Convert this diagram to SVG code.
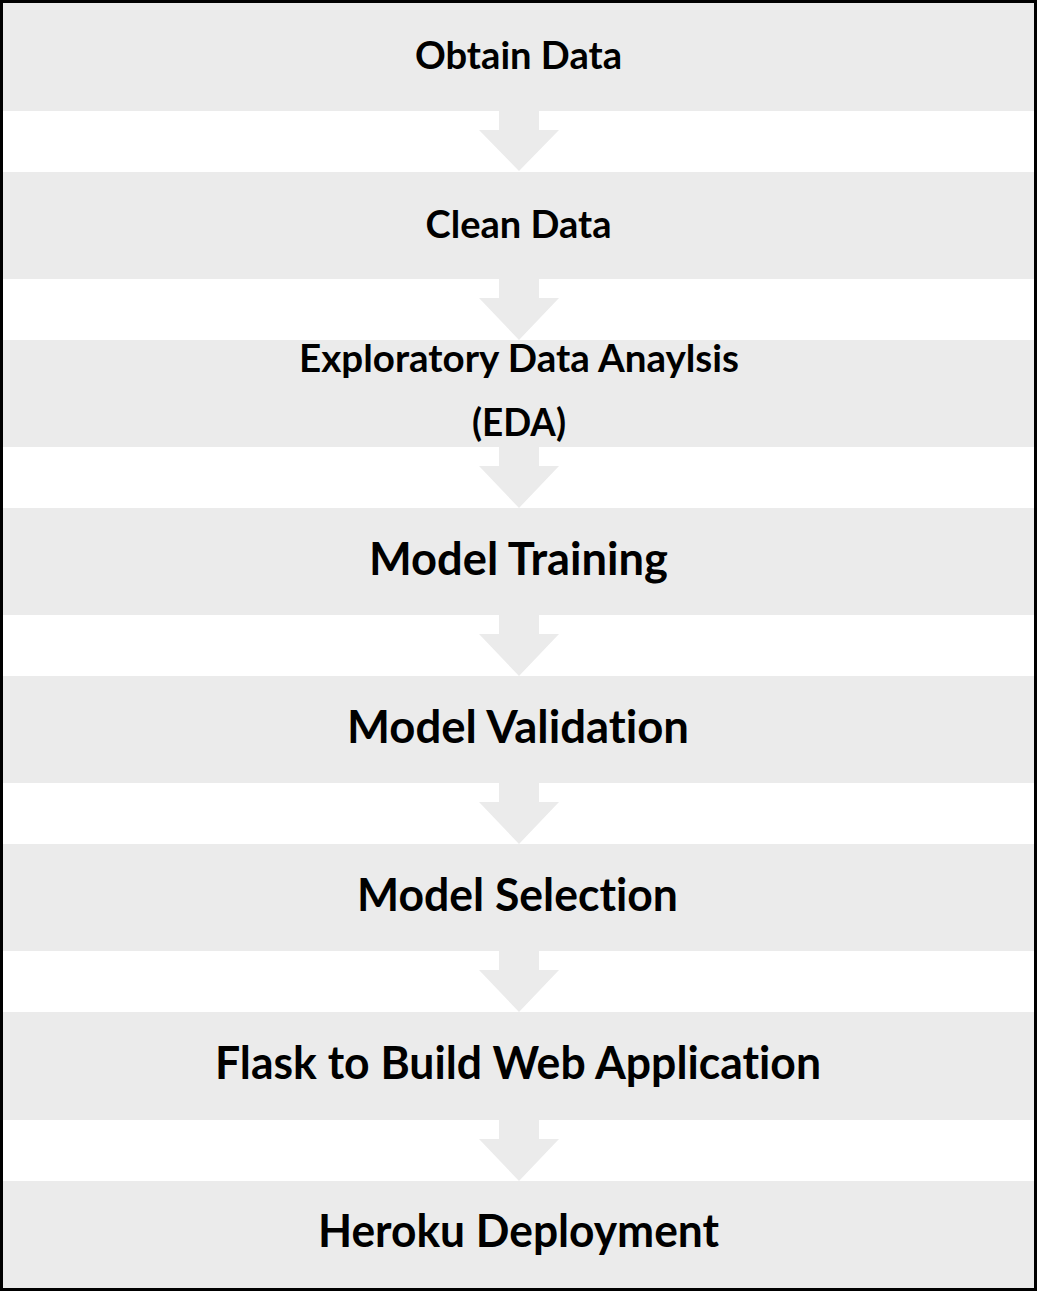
<svg xmlns="http://www.w3.org/2000/svg" width="1037" height="1291" viewBox="0 0 1037 1291">
<style>
.box{fill:#ebebeb}
.arr{fill:#ebebeb}
text{font-family:Lato,"Liberation Sans",sans-serif;font-weight:bold;fill:#000;text-anchor:middle;font-variant-ligatures:none}
.s{font-size:38.5px}
.l{font-size:45px}
</style>
<rect x="0" y="0" width="1037" height="1291" fill="#ffffff"/>
<g id="connectors">
<path class="arr" d="M499,111 H539 V130 H559 L519,171 L479,130 H499 Z"/>
<path class="arr" d="M499,279 H539 V298 H559 L519,340 L479,298 H499 Z"/>
<path class="arr" d="M499,447 H539 V466 H559 L519,508 L479,466 H499 Z"/>
<path class="arr" d="M499,615 H539 V634 H559 L519,676 L479,634 H499 Z"/>
<path class="arr" d="M499,783 H539 V802 H559 L519,844 L479,802 H499 Z"/>
<path class="arr" d="M499,951 H539 V970 H559 L519,1012 L479,970 H499 Z"/>
<path class="arr" d="M499,1120 H539 V1139 H559 L519,1181 L479,1139 H499 Z"/>
</g>
<g id="n1"><rect class="box" x="0" y="0" width="1037" height="111"/><text class="s" x="518.5" y="69" textLength="207" lengthAdjust="spacingAndGlyphs">Obtain Data</text></g>
<g id="n2"><rect class="box" x="0" y="172" width="1037" height="107"/><text class="s" x="518.5" y="238" textLength="186" lengthAdjust="spacingAndGlyphs">Clean Data</text></g>
<g id="n3"><rect class="box" x="0" y="340" width="1037" height="107"/><text class="s" x="519" y="372" textLength="440" lengthAdjust="spacingAndGlyphs">Exploratory Data Anaylsis</text><text class="s" x="519" y="436" textLength="94" lengthAdjust="spacingAndGlyphs">(EDA)</text></g>
<g id="n4"><rect class="box" x="0" y="508" width="1037" height="107"/><text class="l" x="518.5" y="575" textLength="299" lengthAdjust="spacingAndGlyphs">Model Training</text></g>
<g id="n5"><rect class="box" x="0" y="676" width="1037" height="107"/><text class="l" x="518" y="743" textLength="342" lengthAdjust="spacingAndGlyphs">Model Validation</text></g>
<g id="n6"><rect class="box" x="0" y="844" width="1037" height="107"/><text class="l" x="517.5" y="911" textLength="321" lengthAdjust="spacingAndGlyphs">Model Selection</text></g>
<g id="n7"><rect class="box" x="0" y="1012" width="1037" height="108"/><text class="l" x="518" y="1079" textLength="606" lengthAdjust="spacingAndGlyphs">Flask to Build Web Application</text></g>
<g id="n8"><rect class="box" x="0" y="1181" width="1037" height="110"/><text class="l" x="518.5" y="1247" textLength="401" lengthAdjust="spacingAndGlyphs">Heroku Deployment</text></g>
<rect x="1.5" y="1.5" width="1034" height="1288" fill="none" stroke="#000" stroke-width="3"/>
</svg>
